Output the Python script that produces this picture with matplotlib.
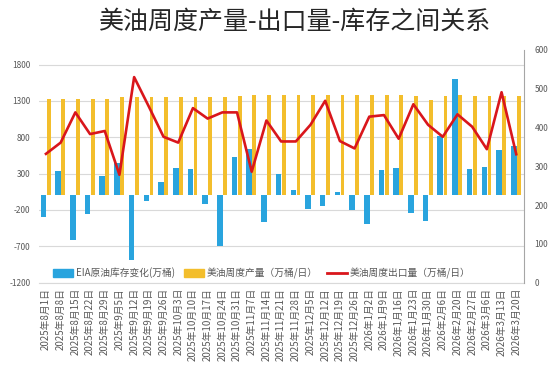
import numpy as np
import matplotlib
matplotlib.use('Agg')
import matplotlib.pyplot as plt
from matplotlib.patches import Patch
from matplotlib.lines import Line2D

plt.rcParams['font.family'] = ['Noto Sans CJK SC', 'DejaVu Sans']
plt.rcParams['axes.unicode_minus'] = False

dates = ['2025年8月1日', '2025年8月8日', '2025年8月15日', '2025年8月22日', '2025年8月29日',
         '2025年9月5日', '2025年9月12日', '2025年9月19日', '2025年9月26日', '2025年10月3日',
         '2025年10月10日', '2025年10月17日', '2025年10月24日', '2025年10月31日', '2025年11月7日',
         '2025年11月14日', '2025年11月21日', '2025年11月28日', '2025年12月5日', '2025年12月12日',
         '2025年12月19日', '2025年12月26日', '2026年1月2日', '2026年1月9日', '2026年1月16日',
         '2026年1月23日', '2026年1月30日', '2026年2月6日', '2026年2月20日', '2026年2月27日',
         '2026年3月6日', '2026年3月13日', '2026年3月20日']

# EIA crude stock change (万桶), left axis
stock_change = [-300, 340, -610, -260, 260, 450, -890, -80, 180, 380, 365, -115, -700, 525, 640,
                -365, 290, 70, -195, -145, 50, -205, -395, 350, 375, -240, -360, 810, 1600, 360,
                385, 625, 680]
# weekly production (万桶/日), left axis
production = [1322, 1320, 1325, 1330, 1330, 1348, 1348, 1350, 1350, 1355, 1355, 1360, 1360, 1362,
              1380, 1380, 1381, 1381, 1382, 1382, 1383, 1383, 1380, 1375, 1375, 1370, 1312, 1372,
              1375, 1370, 1370, 1368, 1366]
# weekly exports (万桶/日), right axis
exports = [332, 361, 439, 383, 391, 278, 530, 454, 376, 361, 450, 423, 439, 439, 286, 418, 364,
           364, 407, 469, 365, 346, 428, 432, 371, 460, 407, 376, 434, 402, 344, 491, 331]

BLUE = '#29A4DE'
YELLOW = '#F3BE2C'
RED = '#D9161C'
GRID = '#D9D9D9'
TXT = '#595959'

fig = plt.figure(figsize=(5.5, 3.69), dpi=100)
ax = fig.add_axes([0.0702, 0.2344, 0.8818, 0.6301])
x = np.arange(len(dates))

ax.bar(x - 0.17, stock_change, width=0.38, color=BLUE, zorder=2)
ax.bar(x + 0.18, production, width=0.26, color=YELLOW, zorder=2)
ax.set_ylim(-1200, 2000)
ax.set_yticks(np.arange(-1200, 1801, 500))
ax.set_xlim(-0.5, len(dates) - 0.5)
ax.set_xticks(x)
ax.set_xticklabels(dates, rotation=90, fontsize=7, color=TXT)
ax.tick_params(axis='y', labelsize=6, colors=TXT, length=0, pad=6)
ax.tick_params(axis='x', length=0, pad=4)
ax.grid(axis='y', color=GRID, lw=0.8, zorder=0)
for s in ['top', 'left', 'right']:
    ax.spines[s].set_visible(False)
ax.spines['bottom'].set_color(GRID)

ax2 = ax.twinx()
ax2.plot(x, exports, color=RED, lw=1.9, zorder=3)
ax2.set_ylim(0, 600)
ax2.set_yticks(np.arange(0, 601, 100))
ax2.tick_params(axis='y', labelsize=6, colors=TXT, length=0, pad=8)
for s in ['top', 'left', 'bottom']:
    ax2.spines[s].set_visible(False)
ax2.spines['right'].set_color('#A6A6A6')

handles = [Patch(color=BLUE), Patch(color=YELLOW), Line2D([], [], color=RED, lw=2)]
labels = ['EIA原油库存变化(万桶)', '美油周度产量（万桶/日）', '美油周度出口量（万桶/日）']
fig.legend(handles, labels, loc='center', bbox_to_anchor=(0.476, 0.26), ncol=3,
           frameon=False, fontsize=7, handlelength=2.0, handleheight=0.9,
           columnspacing=1.0, handletextpad=0.3, labelcolor=TXT)

fig.text(0.536, 0.94, '美油周度产量-出口量-库存之间关系', ha='center', va='center',
         fontsize=18, color='#262626')

fig.savefig('out.png', dpi=100)
